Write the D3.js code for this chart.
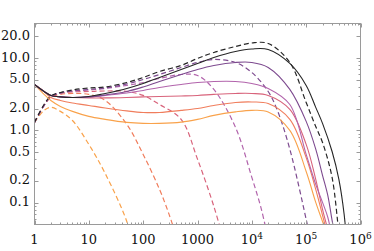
<!DOCTYPE html>
<html><head><meta charset="utf-8">
<script src="https://cdn.jsdelivr.net/npm/d3@7"></script>
<style>body{margin:0;background:#fff}svg{display:block}
text.lbl{font-family:"DejaVu Serif",serif;font-size:13px;fill:#111}</style>
</head><body>
<svg id="chart" width="374" height="251"></svg>
<script>
// ---- tick data ----
const xTickValues = [1, 10, 100, 1000, 1e4, 1e5, 1e6];
const xTickBase   = ["1", "10", "100", "1000", "10", "10", "10"];
const xTickExp    = ["", "", "", "", "4", "5", "6"];
const yTickValues = [0.1, 0.2, 0.5, 1, 2, 5, 10, 20];
const yTickLabels = ["0.1", "0.2", "0.5", "1.0", "2.0", "5.0", "10.0", "20.0"];

// ---- series colours (orange -> black) ----
const colors = ["#f9a24b", "#f07d5c", "#d8637b", "#b264ac", "#7d4a8f", "#262626"];

// ---- solid curves ----
const solid0X = [1,1.5,2,3,5,10,20,50,100,200,500,1000,2000,5000,1e4,2e4,5e4,1e5,1.5e5,2e5,2.5e5];
const solid0Y = [4.31,3.14,2.59,2.14,1.83,1.56,1.42,1.29,1.25,1.25,1.30,1.42,1.61,1.80,1.89,1.80,1.0,0.27,0.101,0.055,0.033];
const solid1X = [1,1.5,2,3,5,10,20,50,100,200,500,1000,2000,5000,1e4,2e4,5e4,1e5,1.5e5,2e5,2.5e5];
const solid1Y = [4.31,3.45,2.85,2.59,2.39,2.21,2.04,1.86,1.77,1.77,1.89,2.01,2.21,2.43,2.47,2.35,1.42,0.42,0.153,0.067,0.035];
const solid2X = [1,1.5,2,3,5,10,20,50,100,200,500,1000,2000,5000,1e4,2e4,5e4,1e5,1.5e5,2e5,2.5e5];
const solid2Y = [4.31,3.45,3.04,2.90,2.85,2.81,2.81,2.85,2.90,2.94,2.99,3.04,3.14,3.24,3.24,3.04,1.95,0.64,0.21,0.081,0.043];
const solid3X = [1,1.5,2,3,5,10,20,50,100,200,500,1000,2000,5000,1e4,2e4,5e4,1e5,1.5e5,2e5,2.5e5,3e5];
const solid3Y = [4.31,3.45,3.04,2.90,2.85,2.90,3.04,3.29,3.56,3.92,4.31,4.59,4.74,4.74,4.45,3.80,2.28,0.465,0.179,0.101,0.063,0.033];
const solid4X = [1,1.5,2,3,5,10,20,50,100,200,500,1000,2000,5000,1e4,2e4,5e4,1e5,1.5e5,2e5,2.5e5,3e5,3.5e5];
const solid4Y = [4.31,3.45,3.04,2.90,2.85,2.90,3.09,3.45,3.98,4.74,5.92,6.95,7.89,8.68,8.68,7.40,3.68,1.33,0.55,0.239,0.126,0.057,0.031];
const solid5X = [1,1.5,2,3,5,10,20,50,100,200,500,1000,2000,5000,1e4,2e4,5e4,1e5,1.5e5,2e5,3e5,4e5,5e5,5.5e5];
const solid5Y = [4.31,3.45,3.04,2.90,2.85,2.94,3.24,3.80,4.45,5.38,6.95,8.41,10.18,12.32,13.33,13.12,8.41,4.18,2.08,1.25,0.51,0.21,0.069,0.031];

// ---- dashed curves ----
const dash0X = [1,1.5,2,3,5,10,20,50,60];
const dash0Y = [1.29,1.89,2.08,1.83,1.37,0.64,0.254,0.055,0.031];
const dash1X = [1,1.5,2,3,5,10,20,50,100,200,300,400];
const dash1Y = [1.29,2.21,2.85,3.14,3.24,3.14,2.59,1.21,0.465,0.153,0.069,0.036];
const dash2X = [1,1.5,2,3,5,10,20,50,100,200,500,1000,2000,3000];
const dash2Y = [1.29,2.21,2.90,3.24,3.40,3.45,3.50,3.45,3.04,2.28,1.42,0.40,0.089,0.031];
const dash3X = [1,1.5,2,3,5,10,20,50,100,200,500,1000,2000,5000,1e4,1.5e4,2e4];
const dash3Y = [1.29,2.21,2.94,3.29,3.50,3.62,3.80,4.18,4.59,5.22,5.92,5.74,3.68,1.10,0.224,0.081,0.031];
const dash4X = [1,1.5,2,3,5,10,20,50,100,200,500,1000,2000,5000,1e4,2e4,3e4,5e4,1e5,1.2e5];
const dash4Y = [1.29,2.21,2.94,3.29,3.50,3.68,3.86,4.38,5.05,5.92,7.40,8.68,9.55,8.68,6.31,3.45,1.83,0.55,0.059,0.031];
const dash5X = [1,1.5,2,3,5,10,20,50,100,200,500,1000,2000,5000,1e4,2e4,5e4,1e5,1.5e5,2e5,3e5,4e5,4.5e5];
const dash5Y = [1.29,2.28,2.99,3.34,3.62,3.86,3.98,4.59,5.38,6.52,7.89,9.86,11.93,14.44,16.13,15.88,8.68,2.43,1.13,0.68,0.224,0.040,0.024];

const solids = [[solid0X,solid0Y],[solid1X,solid1Y],[solid2X,solid2Y],[solid3X,solid3Y],[solid4X,solid4Y],[solid5X,solid5Y]];
const dashes = [[dash0X,dash0Y],[dash1X,dash1Y],[dash2X,dash2Y],[dash3X,dash3Y],[dash4X,dash4Y],[dash5X,dash5Y]];

const L = 34.5, R = 360.5, T = 23.5, B = 224.5;
const x = d3.scaleLog().domain([1, 1e6]).range([L, R]);
const y = d3.scaleLog().domain([0.05, 30]).range([B, T]);

const svg = d3.select("#chart");
svg.append("defs").append("clipPath").attr("id", "clip")
  .append("rect").attr("x", L).attr("y", T).attr("width", R - L).attr("height", B - T);

const line = d3.line().x(d => x(d[0])).y(d => y(d[1])).curve(d3.curveCatmullRom.alpha(0.5));
const g = svg.append("g").attr("clip-path", "url(#clip)");

function toPts(xs, ys) { return xs.map((v, i) => [v, ys[i]]); }

dashes.forEach((s, i) => {
  g.append("path").attr("d", line(toPts(s[0], s[1])))
    .attr("fill", "none").attr("stroke", colors[i]).attr("stroke-width", 1.2)
    .attr("stroke-dasharray", "5,3");
});
solids.forEach((s, i) => {
  g.append("path").attr("d", line(toPts(s[0], s[1])))
    .attr("fill", "none").attr("stroke", colors[i]).attr("stroke-width", 1.1);
});

// frame
const frameColor = "#9a9a9a";
svg.append("rect").attr("x", L).attr("y", T).attr("width", R - L).attr("height", B - T)
  .attr("fill", "none").attr("stroke", frameColor).attr("stroke-width", 1);

// ticks
const xMinor = [];
for (let e = 0; e < 6; e++) for (let k = 2; k <= 9; k++) xMinor.push(k * Math.pow(10, e));
const tk = svg.append("g").attr("stroke", frameColor).attr("stroke-width", 1);
xTickValues.forEach(v => {
  const px = Math.round(x(v)) + 0.5;
  tk.append("line").attr("x1", px).attr("x2", px).attr("y1", B).attr("y2", B - 4);
  tk.append("line").attr("x1", px).attr("x2", px).attr("y1", T).attr("y2", T + 4);
});
xMinor.forEach(v => {
  const px = Math.round(x(v)) + 0.5;
  tk.append("line").attr("x1", px).attr("x2", px).attr("y1", B).attr("y2", B - 2);
  tk.append("line").attr("x1", px).attr("x2", px).attr("y1", T).attr("y2", T + 2);
});
const yMinor = [0.06,0.07,0.08,0.09,0.3,0.4,0.6,0.7,0.8,0.9,3,4,6,7,8,9,30];
yTickValues.forEach(v => {
  const py = Math.round(y(v)) + 0.5;
  tk.append("line").attr("x1", L).attr("x2", L + 4).attr("y1", py).attr("y2", py);
  tk.append("line").attr("x1", R).attr("x2", R - 4).attr("y1", py).attr("y2", py);
});
yMinor.forEach(v => {
  const py = Math.round(y(v)) + 0.5;
  tk.append("line").attr("x1", L).attr("x2", L + 2).attr("y1", py).attr("y2", py);
  tk.append("line").attr("x1", R).attr("x2", R - 2).attr("y1", py).attr("y2", py);
});

// labels
yTickValues.forEach((v, i) => {
  svg.append("text").attr("class", "lbl").attr("x", 30).attr("y", y(v) + 3.5)
    .attr("text-anchor", "end").text(yTickLabels[i]);
});
xTickValues.forEach((v, i) => {
  const t = svg.append("text").attr("class", "lbl").attr("x", x(v)).attr("y", 244)
    .attr("text-anchor", "middle");
  t.append("tspan").text(xTickBase[i]);
  if (xTickExp[i]) t.append("tspan").attr("dy", -5).style("font-size", "9px").text(xTickExp[i]);
});
</script>
</body></html>
